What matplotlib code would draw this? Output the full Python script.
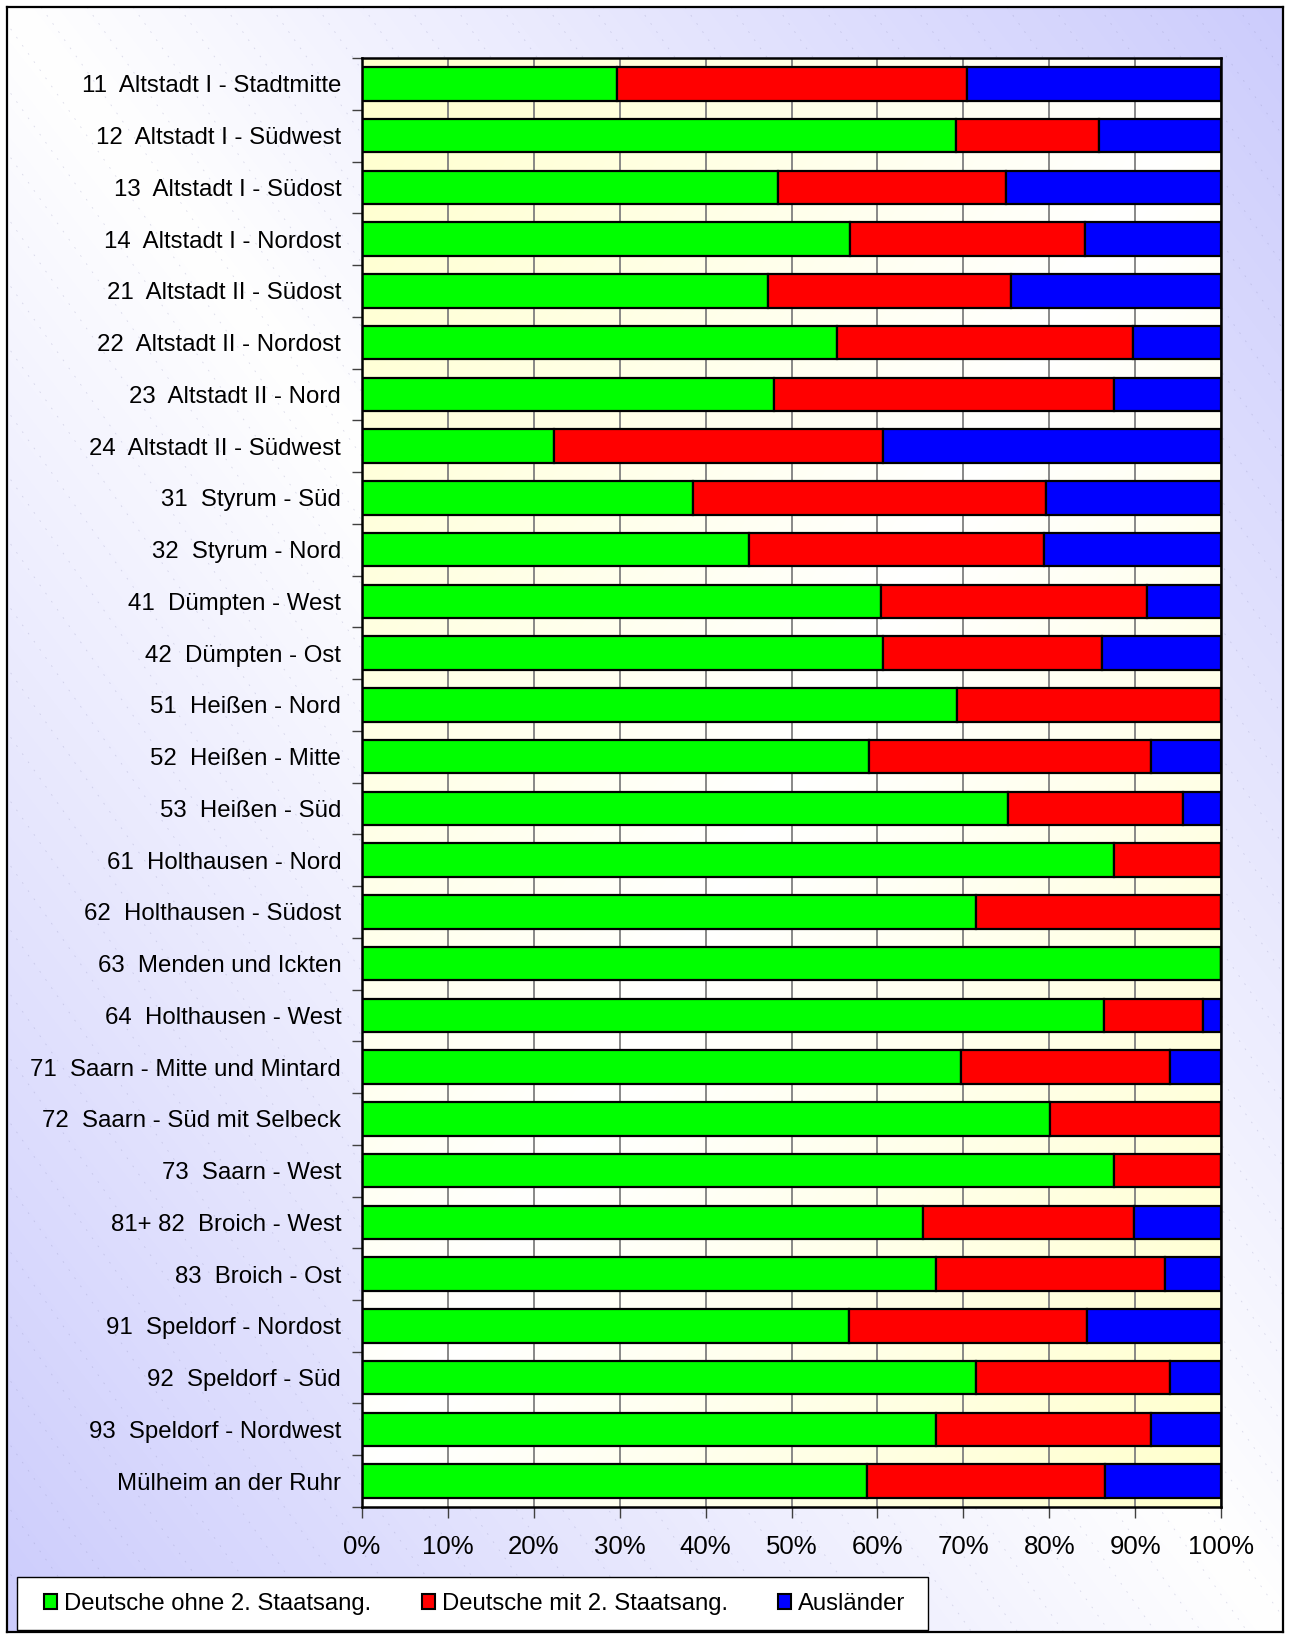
import numpy as np
import matplotlib
matplotlib.use("Agg")
import matplotlib.pyplot as plt
from matplotlib.patches import Patch, Rectangle

plt.rcParams['font.family'] = ['Liberation Sans', 'DejaVu Sans']

# ---------------------------------------------------------------------------
bezirke = [
    "11  Altstadt I - Stadtmitte",
    "12  Altstadt I - Südwest",
    "13  Altstadt I - Südost",
    "14  Altstadt I - Nordost",
    "21  Altstadt II - Südost",
    "22  Altstadt II - Nordost",
    "23  Altstadt II - Nord",
    "24  Altstadt II - Südwest",
    "31  Styrum - Süd",
    "32  Styrum - Nord",
    "41  Dümpten - West",
    "42  Dümpten - Ost",
    "51  Heißen - Nord",
    "52  Heißen - Mitte",
    "53  Heißen - Süd",
    "61  Holthausen - Nord",
    "62  Holthausen - Südost",
    "63  Menden und Ickten",
    "64  Holthausen - West",
    "71  Saarn - Mitte und Mintard",
    "72  Saarn - Süd mit Selbeck",
    "73  Saarn - West",
    "81+ 82  Broich - West",
    "83  Broich - Ost",
    "91  Speldorf - Nordost",
    "92  Speldorf - Süd",
    "93  Speldorf - Nordwest",
    "Mülheim an der Ruhr",
]

# Anteile in Prozent
deutsche_ohne = [29.7, 69.1, 48.4, 56.8, 47.3, 55.3, 48.0, 22.4, 38.5, 45.0,
                 60.4, 60.6, 69.3, 59.0, 75.2, 87.6, 71.5, 100.0, 86.4, 69.7,
                 80.1, 87.6, 65.3, 66.8, 56.7, 71.5, 66.8, 58.8]
deutsche_mit = [40.7, 16.7, 26.6, 27.4, 28.2, 34.5, 39.6, 38.2, 41.1, 34.4,
                31.0, 25.5, 30.7, 32.9, 20.4, 12.4, 28.5, 0.0, 11.5, 24.4,
                19.9, 12.4, 24.6, 26.7, 27.7, 22.6, 25.0, 27.7]
auslaender = [29.6, 14.2, 25.0, 15.8, 24.5, 10.2, 12.4, 39.4, 20.4, 20.6,
              8.6, 13.9, 0.0, 8.1, 4.4, 0.0, 0.0, 0.0, 2.1, 5.9,
              0.0, 0.0, 10.1, 6.5, 15.6, 5.9, 8.2, 13.5]

gruppen = ["Deutsche ohne 2. Staatsang.", "Deutsche mit 2. Staatsang.", "Ausländer"]
farben = ["#00FF00", "#FF0000", "#0000FF"]
# ---------------------------------------------------------------------------

W, H = 1290, 1634
fig = plt.figure(figsize=(W / 100, H / 100), dpi=100)
fig.patch.set_facecolor("white")


def box(x0, y0, x1, y1):
    # pixel box (top-left origin) -> figure fraction rect
    return [x0 / W, 1 - y1 / H, (x1 - x0) / W, (y1 - y0) / H]


# Hintergrund mit Farbverlauf und Rahmen
bw, bh = 1276, 1625
bg = fig.add_axes(box(7, 7, 7 + bw, 7 + bh), zorder=0)
u = np.linspace(0, 1, 300)[None, :]
v = np.linspace(0, 1, 380)[:, None]
d = np.clip(np.abs(u - v), 0, 1)[..., None]
weiss = np.array([1.0, 1.0, 1.0])
lila = np.array([0.80, 0.80, 0.99])
bg.imshow(weiss * (1 - d) + lila * d, extent=(0, bw, bh, 0), aspect="auto",
          interpolation="bilinear")
for c in range(-1300, 1300, 46):
    bg.plot([c, c + bh / 1.4], [0, bh], color=(0.55, 0.55, 0.72), lw=0.6,
            alpha=0.3, ls=(0, (2, 10)))
bg.set_xlim(0, bw)
bg.set_ylim(bh, 0)
bg.set_xticks([])
bg.set_yticks([])
for s in bg.spines.values():
    s.set_linewidth(1.6)
    s.set_color("black")

# Diagramm
ax = fig.add_axes(box(362, 58, 1221, 1507), zorder=2)
n = len(bezirke)
y = np.arange(n)

# Zeichenfläche: Verlauf creme -> weiss -> creme
pu = np.linspace(0, 1, 200)[None, :]
pv = np.linspace(0, 1, 300)[:, None]
t = np.abs((pu + pv) - 1.0)[..., None]
creme = np.array([1.0, 1.0, 0.80])
ax.imshow(weiss * (1 - t) + creme * t, extent=(0, 100, n - 0.5, -0.5),
          aspect="auto", interpolation="bilinear", zorder=-1)

links = np.zeros(n)
for werte, farbe in zip([deutsche_ohne, deutsche_mit, auslaender], farben):
    werte = np.array(werte)
    ax.barh(y, werte, left=links, height=0.65, color=farbe,
            edgecolor="black", linewidth=1.6, zorder=2)
    links = links + werte

ax.set_xlim(0, 100)
ax.set_ylim(n - 0.5, -0.5)
ax.set_xticks(np.arange(0, 101, 10))
ax.set_xticklabels([f"{p}%" for p in range(0, 101, 10)], fontsize=18.5)
ax.set_yticks(y)
ax.set_yticklabels(bezirke, fontsize=17.3)
ax.set_yticks(np.arange(-0.5, n, 1), minor=True)
ax.tick_params(axis="y", which="major", length=0, pad=15)
ax.tick_params(axis="y", which="minor", length=7, width=1.0, color="#404040")
ax.tick_params(axis="x", length=8, width=1.0, color="#404040", pad=12)
ax.grid(axis="x", color="#7f7f7f", linewidth=1.3, zorder=0.5)
ax.set_axisbelow(True)
for s in ax.spines.values():
    s.set_linewidth(1.8)
    s.set_color("black")
    s.set_zorder(3)

# Legende
fig.patches.append(Rectangle((17 / W, 1 - 1630 / H), (928 - 17) / W, 53 / H,
                             transform=fig.transFigure, facecolor="white",
                             edgecolor="black", linewidth=1.0, zorder=3))
handles = [Patch(facecolor=f, edgecolor="black", linewidth=1.5) for f in farben]
fig.legend(handles, gruppen, loc="center left",
           bbox_to_anchor=(44 / W, 1 - 1604 / H), ncol=3, frameon=False,
           fontsize=17.2, handlelength=0.55, handleheight=0.55,
           handletextpad=0.3, columnspacing=2.1, borderpad=0,
           borderaxespad=0).set_zorder(4)

fig.savefig("out.png", dpi=100)
